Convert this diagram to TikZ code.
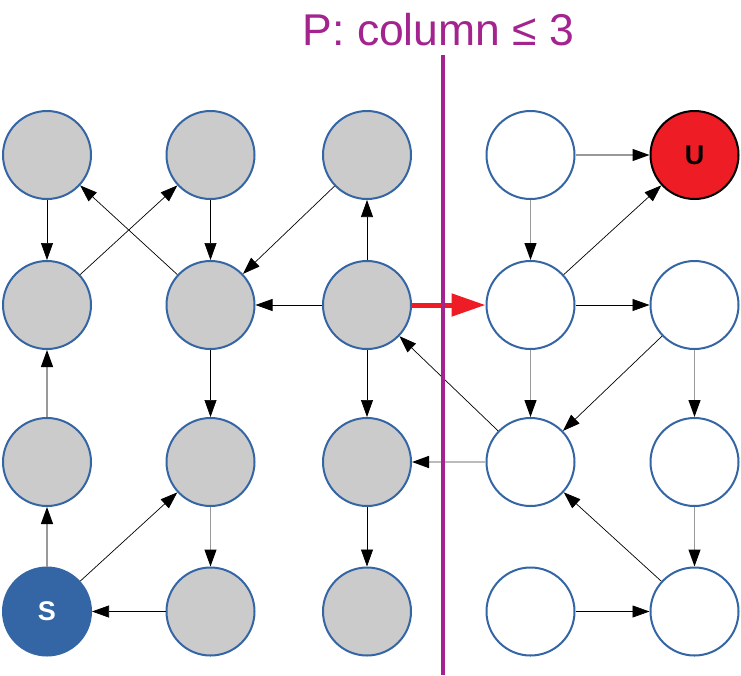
\documentclass[tikz,border=0pt]{standalone}
\usepackage{fontspec}
\setmainfont{Liberation Sans}
\usetikzlibrary{arrows.meta}
\definecolor{nodegray}{HTML}{CBCBCB}
\definecolor{nodeblue}{HTML}{3465A4}
\definecolor{hotred}{HTML}{EE1C25}
\definecolor{cutpurple}{HTML}{A3238F}
\definecolor{linegray}{HTML}{999999}
\definecolor{lightline}{HTML}{BBBBBB}
\newcommand\vlabel[1]{\fontsize{27pt}{27pt}\selectfont\bfseries #1}
\begin{document}
\begin{tikzpicture}[x=1pt,y=-1pt,
  vert/.style={circle,minimum size=88pt,inner sep=0pt,draw=nodeblue,line width=2pt},
  visited/.style={vert,fill=nodegray},
  freev/.style={vert,fill=white},
  edge/.style={-{Triangle[length=17pt,width=12pt,color=black]},line width=0.7pt,draw=black},
  gedge/.style={edge,draw=linegray,line width=1.2pt},
  ledge/.style={edge,draw=lightline,line width=1.6pt},
  hotedge/.style={-{Triangle[length=34pt,width=22pt]},line width=5pt,draw=hotred},
  cutline/.style={draw=cutpurple,line width=4pt}
]
\useasboundingbox (0,0) rectangle (741,675);

% title
\node[text=cutpurple,anchor=base,font=\fontsize{44.5}{44.5}\selectfont,inner sep=0pt] (title) at (438.5,45) {P: column ≤ 3};

% nodes
\node[visited] (a11) at (47,155) {};
\node[visited] (a21) at (210.5,155) {};
\node[visited] (a31) at (367,155) {};
\node[freev] (a41) at (530.5,155) {};
\node[vert,fill=hotred,draw=black] (U) at (694.5,155) {\vlabel{U}};

\node[visited] (a12) at (47,305) {};
\node[visited] (a22) at (210.5,305) {};
\node[visited] (a32) at (367,305) {};
\node[freev] (a42) at (530.5,305) {};
\node[freev] (a52) at (694.5,305) {};

\node[visited] (a13) at (47,462) {};
\node[visited] (a23) at (210.5,462) {};
\node[visited] (a33) at (367,462) {};
\node[freev] (a43) at (530.5,462) {};
\node[freev] (a53) at (694.5,462) {};

\node[vert,fill=nodeblue,text=white] (S) at (47,611.5) {\vlabel{S}};
\node[visited] (a24) at (210.5,611.5) {};
\node[visited] (a34) at (367,611.5) {};
\node[freev] (a44) at (530.5,611.5) {};
\node[freev] (a54) at (694.5,611.5) {};

% edges
\draw[edge] (a11) -- (a12);
\draw[edge] (a21) -- (a22);
\draw[edge] (a12) -- (a21);
\draw[edge] (a22) -- (a11);
\draw[edge] (a31) -- (a22);
\draw[edge] (a32) -- (a31);
\draw[edge] (a32) -- (a22);
\draw[edge] (a32) -- (a33);
\draw[edge] (a43) -- (a32);
\draw[edge] (a22) -- (a23);
\draw[gedge] (a13) -- (a12);
\draw[gedge] (S) -- (a13);
\draw[edge] (S) -- (a23);
\draw[gedge] (a23) -- (a24);
\draw[edge] (a24) -- (S);
\draw[edge] (a33) -- (a34);
\draw[ledge] (a43) -- (a33);
\draw[gedge] (a41) -- (U);
\draw[gedge] (a41) -- (a42);
\draw[edge] (a42) -- (U);
\draw[edge] (a42) -- (a52);
\draw[gedge] (a42) -- (a43);
\draw[edge] (a52) -- (a43);
\draw[gedge] (a52) -- (a53);
\draw[gedge] (a53) -- (a54);
\draw[edge] (a54) -- (a43);
\draw[edge] (a44) -- (a54);
\draw[hotedge] (a32) -- (a42);

% cut line
\coordinate (cuttop) at (443,55);
\coordinate (cutbot) at (443,675);
\draw[cutline] (cuttop) -- (cutbot);
\end{tikzpicture}
\end{document}
